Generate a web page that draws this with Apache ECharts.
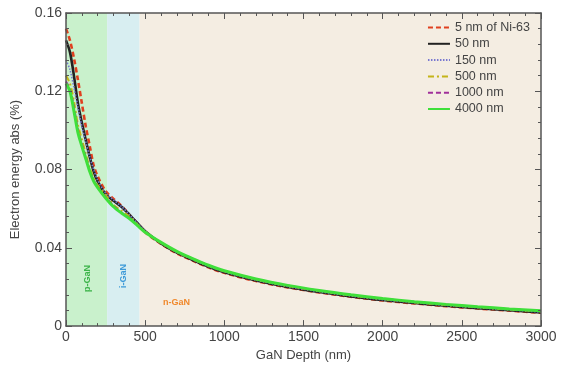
<!DOCTYPE html>
<html>
<head>
<meta charset="utf-8">
<script src="https://cdn.jsdelivr.net/npm/echarts@6/dist/echarts.min.js"></script>
<style>
  html, body { margin: 0; padding: 0; background: #fff; }
  #chart { width: 568px; height: 367px; }
</style>
</head>
<body>
<div id="chart"></div>
<script>
// depth (nm) sample points
const depth = [0, 25, 50, 75, 100, 125, 150, 175, 200, 250, 300, 350, 400, 450, 500,
  600, 700, 800, 900, 1000, 1200, 1400, 1600, 1800, 2000, 2200, 2400, 2600, 2800, 3000];

const seriesNames = ["5 nm of Ni-63", "50 nm", "150 nm", "500 nm", "1000 nm", "4000 nm"];

// electron energy absorbed (%)
const ni5 = [0.152, 0.146, 0.137, 0.126, 0.114, 0.102, 0.092, 0.082, 0.0765, 0.069, 0.065, 0.0615, 0.057, 0.0525, 0.048,
  0.0420, 0.0372, 0.0335, 0.0300, 0.0272, 0.0230, 0.0198, 0.0172, 0.0150, 0.0131, 0.0116, 0.0102, 0.0090, 0.0079, 0.0068];
const ni50 = [0.146, 0.140, 0.128, 0.114, 0.104, 0.095, 0.0865, 0.079, 0.074, 0.0675, 0.064, 0.061, 0.057, 0.0527, 0.0485,
  0.0423, 0.0375, 0.0338, 0.0303, 0.0275, 0.0233, 0.0200, 0.0174, 0.0152, 0.0133, 0.0118, 0.0104, 0.0092, 0.0081, 0.0070];
const ni150 = [0.136, 0.131, 0.122, 0.112, 0.102, 0.094, 0.0865, 0.080, 0.0745, 0.068, 0.0645, 0.0612, 0.057, 0.0527, 0.0485,
  0.0424, 0.0377, 0.0340, 0.0305, 0.0277, 0.0235, 0.0202, 0.0176, 0.0154, 0.0135, 0.0120, 0.0106, 0.0094, 0.0083, 0.0072];
const ni500 = [0.128, 0.124, 0.115, 0.103, 0.0955, 0.088, 0.081, 0.0755, 0.072, 0.067, 0.062, 0.059, 0.056, 0.052, 0.0483,
  0.0425, 0.0379, 0.0342, 0.0308, 0.0280, 0.0238, 0.0205, 0.0179, 0.0157, 0.0138, 0.0122, 0.0108, 0.0096, 0.0085, 0.0075];
const ni1000 = [0.125, 0.121, 0.112, 0.1005, 0.093, 0.0865, 0.0795, 0.0745, 0.0712, 0.066, 0.0615, 0.058, 0.0553, 0.0517, 0.0482,
  0.0426, 0.0380, 0.0344, 0.0310, 0.0282, 0.0240, 0.0207, 0.0181, 0.0159, 0.0140, 0.0124, 0.0110, 0.0098, 0.0087, 0.0077];
const ni4000 = [0.124, 0.120, 0.110, 0.099, 0.092, 0.0855, 0.079, 0.074, 0.0708, 0.0655, 0.061, 0.0578, 0.055, 0.0515, 0.048,
  0.0428, 0.0382, 0.0345, 0.0311, 0.0283, 0.0241, 0.0208, 0.0182, 0.0160, 0.0141, 0.0125, 0.0111, 0.0099, 0.0088, 0.0078];

// layer boundaries (nm)
const layerEdges = [0, 260, 465, 3000];
const layerNames = ["p-GaN", "i-GaN", "n-GaN"];

const xTicks = [0, 500, 1000, 1500, 2000, 2500, 3000];
const yTicks = [0, 0.04, 0.08, 0.12, 0.16];

let chart = echarts.init(document.getElementById("chart"));

const font = "Liberation Sans, Arial, sans-serif";
const axisColor = "#555";

function pairs(ys) {
  return depth.map((d, i) => [d, ys[i]]);
}

let styles = [
  { color: "#e0401f", type: [5, 3], width: 2.6 },
  { color: "#222222", type: "solid", width: 2.6 },
  { color: "#7878d0", type: [1.5, 1.5], width: 1.6 },
  { color: "#c4b418", type: [6, 3, 2, 3], width: 2 },
  { color: "#a0309a", type: [5, 3], width: 2 },
  { color: "#3fe03a", type: "solid", width: 3 }
];
let allData = [ni5, ni50, ni150, ni500, ni1000, ni4000];

let seriesData = allData.map((ys, i) => ({
  name: seriesNames[i],
  type: "line",
  data: pairs(ys),
  smooth: 0.3,
  showSymbol: false,
  symbol: "none",
  lineStyle: styles[i],
  itemStyle: { color: styles[i].color },
  z: 3
}));

// background layers
seriesData.unshift({
  type: "line",
  data: [],
  silent: true,
  markArea: {
    silent: true,
    data: [
      [{ xAxis: layerEdges[0], itemStyle: { color: "#c9f1cc" } }, { xAxis: layerEdges[1] }],
      [{ xAxis: layerEdges[1], itemStyle: { color: "#d8eef1" } }, { xAxis: layerEdges[2] }],
      [{ xAxis: layerEdges[2], itemStyle: { color: "#f4ede2" } }, { xAxis: layerEdges[3] }]
    ]
  },
  z: 1
});

function tickAxis(extra) {
  return Object.assign({
    type: "value",
    z: 10,
    axisLine: { show: true, onZero: false, lineStyle: { color: axisColor, width: 1.5 } },
    axisTick: { show: true, inside: true, length: 6, lineStyle: { color: axisColor, width: 1 } },
    minorTick: { show: true, splitNumber: 5, length: 3, lineStyle: { color: axisColor, width: 1 } },
    splitLine: { show: false }
  }, extra);
}

let option = {
  animation: false,
  textStyle: { fontFamily: font },
  grid: { left: 66, right: 27, top: 13, bottom: 40 },
  legend: {
    data: seriesNames,
    orient: "vertical",
    right: 33,
    top: 16,
    itemWidth: 22,
    itemHeight: 10,
    itemGap: 3.3,
    itemStyle: { opacity: 0 },
    textStyle: { fontSize: 12.5, color: "#444", fontFamily: font }
  },
  graphic: [
    { type: "text", left: 83, top: 265, rotation: Math.PI / 2, z: 100,
      style: { text: layerNames[0], fill: "#3cb449", font: "bold 9px " + font } },
    { type: "text", left: 119, top: 264, rotation: Math.PI / 2, z: 100,
      style: { text: layerNames[1], fill: "#3d9ad8", font: "bold 9px " + font } },
    { type: "text", left: 163, top: 298, z: 100,
      style: { text: layerNames[2], fill: "#f0882b", font: "bold 9px " + font } }
  ],
  xAxis: [
    tickAxis({
      min: 0,
      max: 3000,
      interval: 500,
      name: "GaN Depth (nm)",
      nameLocation: "middle",
      nameGap: 20,
      nameTextStyle: { fontSize: 13, color: "#444" },
      axisLabel: { fontSize: 14, color: "#444", margin: 4, formatter: v => xTicks.includes(v) ? String(v) : "" }
    }),
    tickAxis({
      position: "top",
      min: 0,
      max: 3000,
      interval: 500,
      axisLabel: { show: false }
    })
  ],
  yAxis: [
    tickAxis({
      min: 0,
      max: 0.16,
      interval: 0.04,
      name: "Electron energy abs (%)",
      nameLocation: "middle",
      nameGap: 44,
      nameTextStyle: { fontSize: 13, color: "#444" },
      axisLabel: { fontSize: 14, color: "#444", margin: 4,
        formatter: v => { let t = yTicks.find(k => Math.abs(k - v) < 1e-9); return t === undefined ? "" : (t === 0 ? "0" : t.toFixed(2)); } }
    }),
    tickAxis({
      position: "right",
      min: 0,
      max: 0.16,
      interval: 0.04,
      axisLabel: { show: false }
    })
  ],
  series: seriesData
};

chart.setOption(option);
</script>
</body>
</html>
